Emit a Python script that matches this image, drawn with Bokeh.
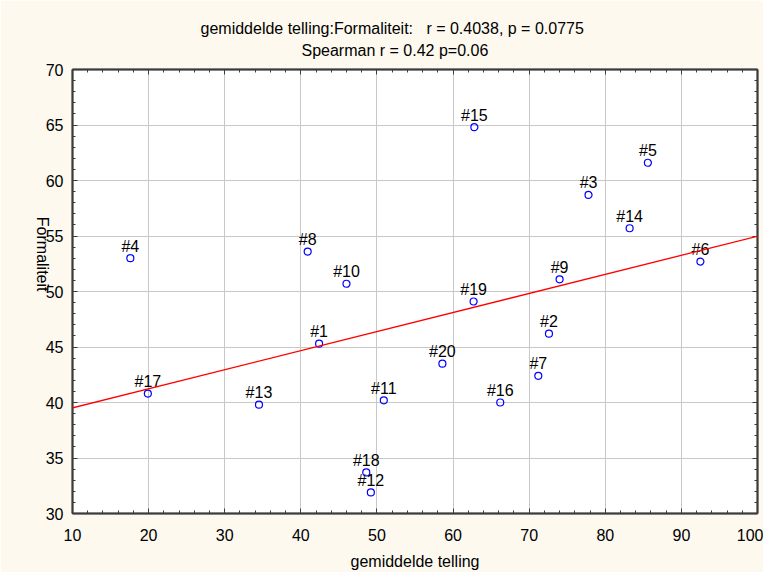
import numpy as np
from bokeh.plotting import figure
from bokeh.models import (LinearAxis, FixedTicker, Slope, ColumnDataSource, Range1d, Title)
from bokeh.core.properties import value
from bokeh.embed import file_html
from bokeh.resources import INLINE

# ---- data ----
point_ids = ["#1", "#2", "#3", "#4", "#5", "#6", "#7", "#8", "#9", "#10",
             "#11", "#12", "#13", "#14", "#15", "#16", "#17", "#18", "#19", "#20"]
telling = [42.4, 72.6, 77.8, 17.6, 85.6, 92.5, 71.2, 40.9, 74.0, 46.0,
           50.9, 49.2, 34.5, 83.2, 62.8, 66.2, 19.9, 48.6, 62.7, 58.6]
formaliteit = [45.3, 46.2, 58.7, 53.0, 61.6, 52.7, 42.4, 53.6, 51.1, 50.7,
               40.2, 31.9, 39.8, 55.7, 64.8, 40.0, 40.8, 33.7, 49.1, 43.5]
x_ticks = [10, 20, 30, 40, 50, 60, 70, 80, 90, 100]
y_ticks = [30, 35, 40, 45, 50, 55, 60, 65, 70]
title_line1 = "gemiddelde telling:Formaliteit:\u00a0\u00a0 r = 0.4038, p = 0.0775"
title_line2 = "Spearman r = 0.42 p=0.06"
x_label = "gemiddelde telling"
y_label = "Formaliteit"

CREAM = "#fdf9ef"
AXIS = "#3c3c3c"
FONT = "Liberation Sans"

x_minor = list(range(x_ticks[0], x_ticks[-1] + 1, 2))
y_minor = list(range(y_ticks[0], y_ticks[-1] + 1, 1))

p = figure(width=763, height=572,
           x_range=Range1d(x_ticks[0], x_ticks[-1]),
           y_range=Range1d(y_ticks[0], y_ticks[-1]),
           output_backend="svg", toolbar_location=None,
           background_fill_color="white", border_fill_color=CREAM,
           min_border_left=72, min_border_right=6,
           min_border_top=69, min_border_bottom=56,
           x_axis_label=x_label)
p.outline_line_color = AXIS
p.outline_line_width = 1.5

xt = FixedTicker(ticks=x_ticks, minor_ticks=x_minor)
yt = FixedTicker(ticks=y_ticks, minor_ticks=y_minor)

bottom = p.below[0]
left = p.left[0]
top = LinearAxis(ticker=xt)
right = LinearAxis(ticker=yt)
p.add_layout(top, "above")
p.add_layout(right, "right")
bottom.ticker = xt
left.ticker = yt

for ax in (bottom, left, top, right):
    ax.axis_line_color = AXIS
    ax.axis_line_width = 2
    ax.major_tick_line_color = AXIS
    ax.minor_tick_line_color = AXIS
    ax.major_tick_in = 5
    ax.major_tick_out = 0
    ax.minor_tick_in = 3
    ax.minor_tick_out = 0
    ax.major_label_text_font = FONT
    ax.major_label_text_font_size = "16px"
    ax.major_label_text_color = "black"
    ax.axis_label_text_font = FONT
    ax.axis_label_text_font_size = "16px"
    ax.axis_label_text_font_style = "normal"
    ax.axis_label_text_color = "black"

for ax in (top, right):
    ax.major_label_text_font_size = "1px"
    ax.major_label_text_color = None
    ax.major_label_standoff = 0

bottom.major_label_standoff = 15
bottom.axis_label_standoff = 9
left.major_label_standoff = 9

# separate, line-less axis that only carries the (top-to-bottom) y label,
# its bounds place the label lower on the side, as in the reference
ylab_axis = LinearAxis(ticker=yt, axis_label=y_label, bounds=(30, 49.4))
ylab_axis.axis_line_color = None
ylab_axis.major_tick_line_color = None
ylab_axis.minor_tick_line_color = None
ylab_axis.major_tick_in = 0
ylab_axis.major_tick_out = 0
ylab_axis.minor_tick_in = 0
ylab_axis.minor_tick_out = 0
ylab_axis.major_label_text_font_size = "1px"
ylab_axis.major_label_text_color = None
ylab_axis.major_label_standoff = 0
ylab_axis.axis_label_standoff = 0
ylab_axis.axis_label_text_font = FONT
ylab_axis.axis_label_text_font_size = "16px"
ylab_axis.axis_label_text_font_style = "normal"
ylab_axis.axis_label_text_color = "black"
ylab_axis.axis_label_orientation = 3 * np.pi / 2
p.add_layout(ylab_axis, "left")

p.xgrid.ticker = xt
p.ygrid.ticker = yt
p.grid.grid_line_color = "#c8c8c8"
p.grid.grid_line_width = 1

src = ColumnDataSource(dict(telling=telling, formaliteit=formaliteit, label=point_ids))

slope, intercept = np.polyfit(telling, formaliteit, 1)
p.add_layout(Slope(gradient=slope, y_intercept=intercept, line_color="red", line_width=1.3))

p.scatter(x="telling", y="formaliteit", source=src, size=7, fill_color=None,
          line_color="#0000ff", line_width=1.2)
p.text(x="telling", y="formaliteit", text="label", source=src, text_align="center",
       text_baseline="alphabetic", y_offset=-12, text_font=value(FONT),
       text_font_size="16px", text_color="black")

t2 = Title(text=title_line2, align="left", offset=229, standoff=21,
           text_font=FONT, text_font_size="16px", text_font_style="normal", text_color="black")
p.add_layout(t2, "above")
t1 = Title(text=title_line1, align="left", offset=128, standoff=-15,
           text_font=FONT, text_font_size="16px", text_font_style="normal", text_color="black")
p.add_layout(t1, "above")

open("out.html", "w").write(file_html(p, INLINE))
